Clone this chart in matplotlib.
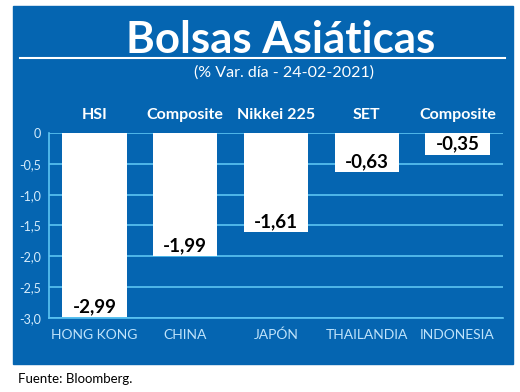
import matplotlib
matplotlib.use("Agg")
import matplotlib.pyplot as plt
from matplotlib.patches import Rectangle
from matplotlib.lines import Line2D

paises = ["HONG KONG", "CHINA", "JAPÓN", "THAILANDIA", "INDONESIA"]
indices = ["HSI", "Composite", "Nikkei 225", "SET", "Composite"]
variacion = [-2.99, -1.99, -1.61, -0.63, -0.35]
yticks = [0, -0.5, -1.0, -1.5, -2.0, -2.5, -3.0]

azul = "#0565b1"
celeste = "#5cc4f2"
fuente = "Lato"

fig = plt.figure(figsize=(5.2, 3.92), dpi=100)
fig.patches.append(Rectangle((13/520, 1-364/392), 500/520, 358/392,
                             transform=fig.transFigure, color=azul, zorder=-5))
fig.lines.append(Line2D([20/520, 505/520], [1-58/392, 1-58/392],
                        transform=fig.transFigure, color="white", lw=1.5))

fig.text(281/520, 1-53/392, "Bolsas Asiáticas", color="white", fontsize=31.5,
         fontweight="bold", family=fuente, ha="center", va="baseline")
fig.text(284/520, 1-73/392, "(% Var. día - 24-02-2021)", color="white", fontsize=11.5,
         family=fuente, ha="center", va="center")
fig.text(18/520, 1-379/392, "Fuente: Bloomberg.", color="black", fontsize=9.5,
         family=fuente, ha="left", va="center")

ax = fig.add_axes([49/520, 1-318/392, 454/520, 185/392])
ax.set_facecolor("none")
x = list(range(len(paises)))
ax.bar(x, variacion, width=0.71, color="white", zorder=3)
ax.set_xlim(-0.5, 4.5)
ax.set_ylim(-3.0, 0)
ax.set_yticks(yticks)
ax.set_yticklabels([("%.1f" % t).replace(".", ",") if t != 0 else "0" for t in yticks],
                   color="#d5ecfc", fontsize=9, family=fuente)
ax.tick_params(axis="y", length=0, pad=6)
ax.set_xticks([])
ax.grid(axis="y", color=celeste, lw=1.2, zorder=1)
for s in ["top", "right"]:
    ax.spines[s].set_visible(False)
for s in ["left", "bottom"]:
    ax.spines[s].set_color(celeste)
    ax.spines[s].set_linewidth(1.2)

for xi, v, idx, p in zip(x, variacion, indices, paises):
    ax.text(xi, v + 0.08, ("%.2f" % v).replace(".", ","), ha="center", va="baseline",
            fontsize=13.5, fontweight="bold", family=fuente, color="black", zorder=4)
    ax.text(xi, 0.22, idx, ha="center", va="baseline", fontsize=11.5,
            fontweight="bold", family=fuente, color="white")
    ax.text(xi, -3.34, p, ha="center", va="baseline", fontsize=10,
            family=fuente, color="#bfe3fb")

fig.savefig("out.png", dpi=100)
